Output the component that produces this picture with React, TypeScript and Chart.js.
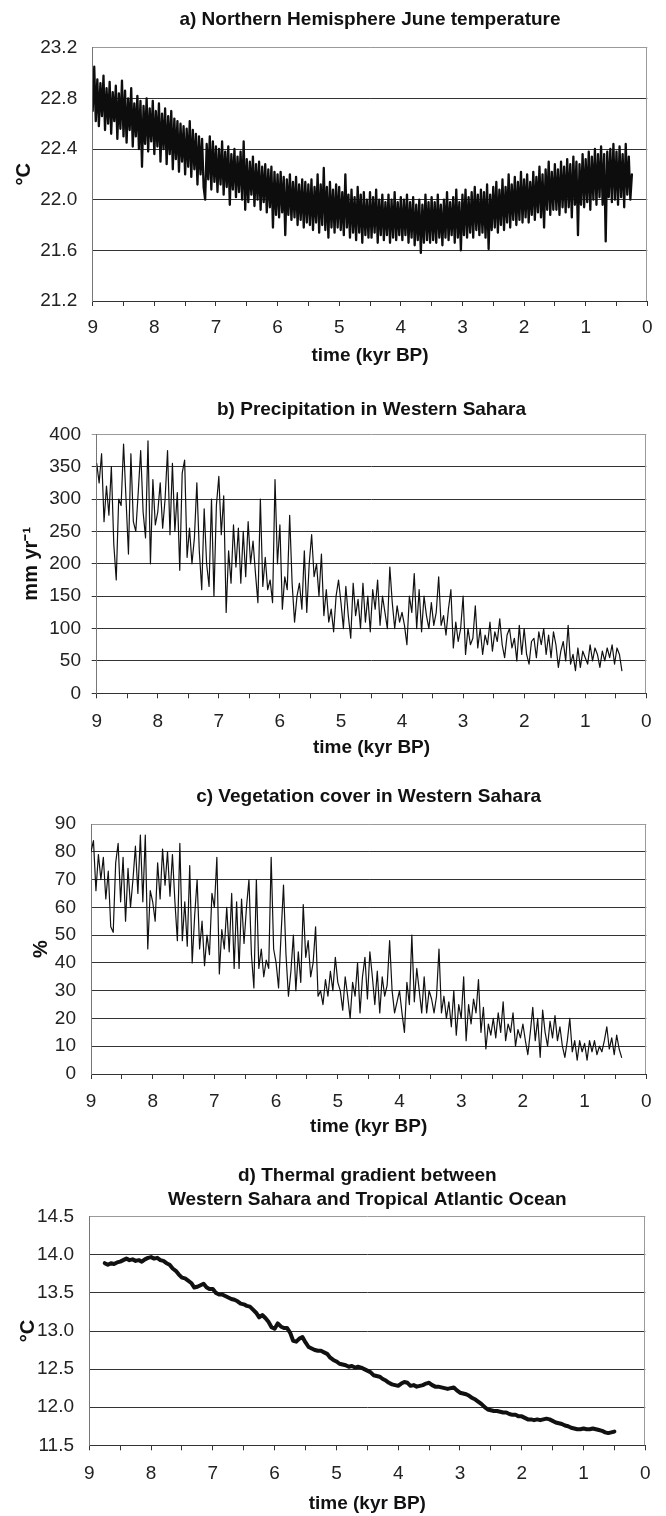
import React, { useEffect, useRef } from "react";
import { Chart, registerables } from "chart.js";

Chart.register(...registerables);

const FONT_FAMILY = "'Liberation Sans', Arial, Helvetica, sans-serif";

// ---------- shared x axis (time, kyr BP, reversed) ----------
const X_AXIS_TITLE = "time (kyr BP)";
const X_TICK_VALUES = [0, 0.5, 1, 1.5, 2, 2.5, 3, 3.5, 4, 4.5, 5, 5.5, 6, 6.5, 7, 7.5, 8, 8.5, 9];
const X_TICK_LABELS = ["0", "", "1", "", "2", "", "3", "", "4", "", "5", "", "6", "", "7", "", "8", "", "9"];

// ---------- panel a ----------
const A_TITLE = "a) Northern Hemisphere June temperature";
const A_Y_TITLE = "°C";
const A_Y_TICKS = [21.2, 21.6, 22.0, 22.4, 22.8, 23.2];
const A_Y_TICK_LABELS = ["21.2", "21.6", "22.0", "22.4", "22.8", "23.2"];
const A_TIME_START = 9.0;
const A_TIME_STEP = 0.025;
const A_TEMPERATURE = [
  22.70, 23.05, 22.62, 22.95, 22.58, 22.92, 22.66, 22.98, 22.55, 22.88, 22.60, 22.93, 22.52, 22.85, 22.62, 22.90, 22.48, 22.84, 22.56, 22.94,
  22.50, 22.86, 22.45, 22.80, 22.55, 22.88, 22.42, 22.76, 22.50, 22.82, 22.40, 22.78, 22.26, 22.74, 22.44, 22.80, 22.38, 22.72, 22.46, 22.78,
  22.36, 22.70, 22.42, 22.76, 22.30, 22.68, 22.40, 22.72, 22.28, 22.66, 22.36, 22.70, 22.24, 22.64, 22.32, 22.62, 22.22, 22.60, 22.30, 22.58,
  22.20, 22.56, 22.26, 22.62, 22.18, 22.55, 22.24, 22.52, 22.12, 22.50, 22.20, 22.48, 22.10, 22.00, 22.44, 22.16, 22.50, 22.08, 22.46, 22.14,
  22.42, 22.06, 22.40, 22.12, 22.46, 22.04, 22.38, 22.10, 22.42, 21.96, 22.36, 22.08, 22.40, 22.02, 22.34, 22.06, 22.38, 22.00, 22.46, 21.92,
  22.32, 21.98, 22.30, 22.04, 22.34, 21.95, 22.28, 22.00, 22.30, 21.92, 22.26, 21.98, 22.28, 21.90, 22.24, 21.94, 22.26, 21.78, 22.22, 21.88,
  22.20, 21.86, 22.22, 21.90, 22.18, 21.72, 22.16, 21.88, 22.20, 21.84, 22.14, 21.86, 22.18, 21.80, 22.12, 21.84, 22.16, 21.78, 22.14, 21.82,
  22.12, 21.80, 22.16, 21.76, 22.10, 21.82, 22.20, 21.74, 22.12, 21.80, 22.25, 21.76, 22.10, 21.70, 22.14, 21.78, 22.08, 21.74, 22.12, 21.78,
  22.10, 21.76, 22.06, 21.72, 22.20, 21.78, 22.04, 21.70, 22.08, 21.74, 22.02, 21.68, 22.10, 21.74, 22.04, 21.66, 22.06, 21.72, 22.00, 21.70,
  22.06, 21.70, 22.02, 21.74, 22.08, 21.66, 22.00, 21.72, 22.04, 21.68, 21.98, 21.72, 22.04, 21.66, 22.00, 21.70, 22.06, 21.68, 21.98, 21.72,
  22.02, 21.68, 22.00, 21.72, 22.04, 21.66, 21.98, 21.70, 22.02, 21.64, 21.96, 21.68, 22.00, 21.58, 21.96, 21.66, 22.04, 21.68, 21.98, 21.66,
  22.02, 21.68, 21.98, 21.66, 22.04, 21.70, 21.96, 21.64, 22.00, 21.70, 22.06, 21.68, 21.98, 21.72, 22.02, 21.66, 22.08, 21.70, 21.98, 21.60,
  22.04, 21.72, 22.08, 21.70, 22.02, 21.74, 22.06, 21.70, 22.10, 21.76, 22.04, 21.72, 22.08, 21.74, 22.06, 21.70, 22.12, 21.61, 22.04, 21.76,
  22.10, 21.78, 22.14, 21.74, 22.08, 21.80, 22.16, 21.76, 22.10, 21.82, 22.20, 21.78, 22.12, 21.84, 22.18, 21.80, 22.14, 21.84, 22.22, 21.82,
  22.16, 21.86, 22.20, 21.82, 22.14, 21.88, 22.22, 21.84, 22.18, 21.90, 22.26, 21.86, 22.20, 21.78, 22.24, 21.92, 22.30, 21.88, 22.22, 21.92,
  22.28, 21.92, 22.24, 21.88, 22.30, 21.94, 22.26, 21.90, 22.32, 21.94, 22.28, 21.86, 22.34, 21.96, 22.30, 21.72, 22.28, 21.96, 22.36, 21.94,
  22.32, 21.98, 22.38, 21.92, 22.34, 22.00, 22.40, 21.96, 22.36, 22.02, 22.42, 21.96, 22.36, 21.67, 22.38, 22.02, 22.40, 21.98, 22.44, 22.00,
  22.38, 21.96, 22.42, 22.02, 22.36, 21.94, 22.44, 22.04, 22.34, 22.00, 22.20,
];

// ---------- panel b ----------
const B_TITLE = "b) Precipitation in Western Sahara";
const B_Y_TITLE = "mm yr⁻¹";
const B_Y_TICKS = [0, 50, 100, 150, 200, 250, 300, 350, 400];
const B_Y_TICK_LABELS = ["0", "50", "100", "150", "200", "250", "300", "350", "400"];
const B_TIME_START = 9.0;
const B_TIME_STEP = 0.04;
const B_PRECIPITATION = [
  355, 325, 370, 265, 320, 275, 350, 230, 175, 300, 290, 385, 300, 215, 370, 265, 250, 310, 375, 280, 240, 390, 200, 330, 260,
  280, 325, 255, 300, 375, 245, 355, 250, 310, 190, 340, 360, 210, 255, 200, 240, 325, 220, 160, 285, 200, 165, 300, 150, 290,
  335, 245, 305, 125, 220, 170, 260, 195, 255, 170, 250, 180, 265, 200, 235, 185, 140, 300, 165, 210, 160, 175, 140, 330, 200,
  260, 130, 180, 160, 275, 170, 110, 150, 170, 130, 220, 125, 200, 245, 180, 200, 150, 215, 120, 160, 110, 130, 95, 150, 175,
  140, 100, 165, 120, 85, 170, 120, 145, 100, 170, 110, 150, 95, 160, 130, 175, 105, 150, 125, 100, 195, 140, 100, 135, 110,
  125, 105, 75, 150, 125, 185, 100, 160, 95, 150, 120, 100, 140, 105, 125, 180, 105, 120, 90, 130, 160, 70, 110, 80, 100,
  150, 60, 100, 75, 85, 135, 70, 100, 60, 90, 75, 110, 65, 95, 80, 115, 75, 55, 90, 100, 70, 85, 50, 105, 60,
  100, 60, 45, 80, 85, 55, 95, 75, 100, 60, 90, 55, 95, 75, 40, 65, 80, 50, 105, 45, 60, 35, 70, 40, 65,
  55, 45, 75, 50, 70, 60, 40, 65, 50, 70, 55, 75, 45, 70, 60, 35,
];

// ---------- panel c ----------
const C_TITLE = "c) Vegetation cover in Western Sahara";
const C_Y_TITLE = "%";
const C_Y_TICKS = [0, 10, 20, 30, 40, 50, 60, 70, 80, 90];
const C_Y_TICK_LABELS = ["0", "10", "20", "30", "40", "50", "60", "70", "80", "90"];
const C_TIME_START = 9.0;
const C_TIME_STEP = 0.04;
const C_VEGETATION = [
  80, 84, 66, 79, 70, 78, 63, 73, 53, 51, 76, 83, 62, 78, 55, 74, 60, 70, 82, 65, 86, 62, 86, 45, 66,
  62, 55, 76, 63, 81, 68, 80, 64, 79, 62, 48, 83, 48, 62, 46, 75, 40, 57, 70, 45, 55, 39, 50, 43, 65,
  60, 78, 36, 52, 45, 60, 44, 65, 38, 62, 38, 63, 47, 60, 70, 43, 31, 70, 38, 45, 35, 41, 38, 78, 45,
  40, 31, 50, 68, 43, 28, 37, 50, 30, 44, 33, 61, 42, 48, 35, 40, 53, 28, 30, 25, 34, 28, 37, 30, 42,
  33, 30, 23, 35, 28, 20, 33, 28, 40, 22, 35, 42, 27, 44, 35, 25, 37, 22, 35, 28, 32, 48, 30, 22, 26,
  30, 22, 15, 33, 25, 50, 26, 38, 30, 22, 35, 22, 30, 27, 22, 28, 45, 22, 28, 20, 26, 17, 30, 14, 25,
  20, 35, 12, 25, 18, 27, 22, 34, 15, 24, 9, 18, 14, 20, 13, 22, 15, 26, 12, 18, 15, 22, 10, 16, 13,
  18, 12, 7, 15, 24, 12, 20, 6, 23, 15, 10, 19, 13, 21, 12, 17, 10, 6, 12, 20, 8, 12, 5, 12, 8,
  11, 5, 12, 8, 12, 7, 10, 8, 12, 17, 9, 13, 7, 14, 9, 6,
];

// ---------- panel d ----------
const D_TITLE = ["d) Thermal gradient between", "Western Sahara and Tropical Atlantic Ocean"];
const D_Y_TITLE = "°C";
const D_Y_TICKS = [11.5, 12.0, 12.5, 13.0, 13.5, 14.0, 14.5];
const D_Y_TICK_LABELS = ["11.5", "12.0", "12.5", "13.0", "13.5", "14.0", "14.5"];
const D_TIME_START = 8.75;
const D_TIME_STEP = 0.05;
const D_GRADIENT = [
  13.89, 13.87, 13.89, 13.88, 13.90, 13.91, 13.93, 13.95, 13.93, 13.94,
  13.92, 13.93, 13.91, 13.94, 13.96, 13.97, 13.95, 13.96, 13.93, 13.92,
  13.89, 13.87, 13.82, 13.79, 13.74, 13.70, 13.69, 13.66, 13.63, 13.57,
  13.58, 13.60, 13.62, 13.57, 13.55, 13.55, 13.50, 13.48, 13.48, 13.46,
  13.44, 13.42, 13.41, 13.39, 13.36, 13.35, 13.33, 13.32, 13.28, 13.24,
  13.18, 13.21, 13.17, 13.12, 13.05, 13.03, 13.10, 13.06, 13.04, 13.04,
  12.98, 12.87, 12.86, 12.90, 12.92, 12.85, 12.79, 12.77, 12.75, 12.74,
  12.74, 12.72, 12.70, 12.65, 12.62, 12.60, 12.57, 12.56, 12.55, 12.53,
  12.54, 12.52, 12.53, 12.52, 12.50, 12.48, 12.46, 12.42, 12.41, 12.40,
  12.37, 12.35, 12.32, 12.30, 12.29, 12.28, 12.31, 12.33, 12.32, 12.28,
  12.29, 12.27, 12.28, 12.29, 12.31, 12.32, 12.29, 12.27, 12.27, 12.26,
  12.25, 12.24, 12.25, 12.26, 12.22, 12.19, 12.18, 12.17, 12.15, 12.12,
  12.10, 12.07, 12.04, 12.00, 11.97, 11.96, 11.95, 11.95, 11.94, 11.93,
  11.93, 11.91, 11.90, 11.90, 11.88, 11.88, 11.86, 11.84, 11.84, 11.83,
  11.84, 11.83, 11.84, 11.85, 11.84, 11.82, 11.80, 11.79, 11.78, 11.76,
  11.75, 11.73, 11.72, 11.71, 11.71, 11.72, 11.71, 11.71, 11.72, 11.71,
  11.70, 11.69, 11.67, 11.66, 11.67, 11.68,
];

// sample times for each series (one per stored value)
function toPoints(start: number, step: number, values: number[]) {
  return values.map((y, i) => ({ x: Math.round((start - i * step) * 1000) / 1000, y }));
}

type Panel = {
  top: number;
  height: number;
  title: string | string[];
  titleLH: number;
  titlePadTop: number;
  titlePadBottom: number;
  yTitle: string;
  yTitlePad: number;
  yWidth: number;
  yTicks: number[];
  yTickLabels: string[];
  yTickPad: number;
  yTickLen: number;
  xHeight: number;
  xTickPad: number;
  xTitlePad: number;
  rightPad: number;
  points: { x: number; y: number }[];
  lineWidth: number;
  lineColor: string;
};

const PANELS: Panel[] = [
  {
    top: 0, height: 372, title: A_TITLE, titleLH: 1.2, titlePadTop: 8.6, titlePadBottom: 16.3,
    yTitle: A_Y_TITLE, yTitlePad: 12, yWidth: 92.7, yTicks: A_Y_TICKS, yTickLabels: A_Y_TICK_LABELS,
    yTickPad: 15.5, yTickLen: 0, xHeight: 71, xTickPad: 10.6, xTitlePad: 4.6, rightPad: 18.7,
    points: toPoints(A_TIME_START, A_TIME_STEP, A_TEMPERATURE), lineWidth: 2.3, lineColor: "#0d0d0d",
  },
  {
    top: 372, height: 388, title: B_TITLE, titleLH: 1.2, titlePadTop: 26.6, titlePadBottom: 12.9,
    yTitle: B_Y_TITLE, yTitlePad: 19.5, yWidth: 96.7, yTicks: B_Y_TICKS, yTickLabels: B_Y_TICK_LABELS,
    yTickPad: 10.7, yTickLen: 5, xHeight: 66.7, xTickPad: 12.3, xTitlePad: 0.6, rightPad: 19.7,
    points: toPoints(B_TIME_START, B_TIME_STEP, B_PRECIPITATION), lineWidth: 1.2, lineColor: "#111",
  },
  {
    top: 760, height: 380, title: C_TITLE, titleLH: 1.2, titlePadTop: 25.6, titlePadBottom: 15.6,
    yTitle: C_Y_TITLE, yTitlePad: 29.5, yWidth: 91, yTicks: C_Y_TICKS, yTickLabels: C_Y_TICK_LABELS,
    yTickPad: 15, yTickLen: 0, xHeight: 66, xTickPad: 11.6, xTitlePad: 1.6, rightPad: 19.7,
    points: toPoints(C_TIME_START, C_TIME_STEP, C_VEGETATION), lineWidth: 1.2, lineColor: "#111",
  },
  {
    top: 1140, height: 376, title: D_TITLE, titleLH: 1.3, titlePadTop: 23, titlePadBottom: 4.3,
    yTitle: D_Y_TITLE, yTitlePad: 16, yWidth: 89.3, yTicks: D_Y_TICKS, yTickLabels: D_Y_TICK_LABELS,
    yTickPad: 15.3, yTickLen: 0, xHeight: 70.7, xTickPad: 12.3, xTitlePad: 0.6, rightPad: 20.7,
    points: toPoints(D_TIME_START, D_TIME_STEP, D_GRADIENT), lineWidth: 4, lineColor: "#111",
  },
];

const framePlugin = {
  id: "rightFrame",
  beforeDatasetsDraw(chart: any) {
    const { ctx, chartArea } = chart;
    const x = Math.round(chartArea.right) - 0.5;
    ctx.save();
    ctx.strokeStyle = "#9a9a9a";
    ctx.lineWidth = 1;
    ctx.beginPath();
    ctx.moveTo(x, chartArea.top);
    ctx.lineTo(x, chartArea.bottom);
    ctx.stroke();
    ctx.restore();
  },
};

function buildConfig(p: Panel): any {
  const yMin = p.yTicks[0];
  const yMax = p.yTicks[p.yTicks.length - 1];
  return {
    type: "line",
    data: {
      datasets: [
        {
          data: p.points,
          borderColor: p.lineColor,
          borderWidth: p.lineWidth,
          pointRadius: 0,
          tension: 0,
          fill: false,
          borderJoinStyle: "round",
          borderCapStyle: "round",
        },
      ],
    },
    options: {
      animation: false,
      responsive: true,
      maintainAspectRatio: false,
      events: [],
      layout: { padding: { left: 0, right: p.rightPad, top: 0, bottom: 0 } },
      plugins: {
        legend: { display: false },
        tooltip: { enabled: false },
        title: {
          display: true,
          text: p.title,
          fullSize: false,
          color: "#111",
          font: { family: FONT_FAMILY, size: 19, weight: "bold", lineHeight: p.titleLH },
          padding: { top: p.titlePadTop, bottom: p.titlePadBottom },
        },
      },
      scales: {
        x: {
          type: "linear",
          min: 0,
          max: 9,
          reverse: true,
          afterBuildTicks: (s: any) => {
            s.ticks = X_TICK_VALUES.map((v) => ({ value: v }));
          },
          afterFit: (s: any) => {
            s.height = p.xHeight;
          },
          ticks: {
            autoSkip: false,
            maxRotation: 0,
            padding: p.xTickPad,
            color: "#222",
            font: { family: FONT_FAMILY, size: 19 },
            callback: (v: number) => {
              const i = X_TICK_VALUES.indexOf(v);
              return i >= 0 ? X_TICK_LABELS[i] : "";
            },
          },
          grid: { drawOnChartArea: false, drawTicks: true, tickLength: 5, color: "#333", lineWidth: 1 },
          border: { display: true, color: "#333", width: 1 },
          title: {
            display: true,
            text: X_AXIS_TITLE,
            color: "#111",
            font: { family: FONT_FAMILY, size: 19, weight: "bold", lineHeight: 1.2 },
            padding: { top: 0, bottom: p.xTitlePad },
          },
        },
        y: {
          type: "linear",
          min: yMin,
          max: yMax,
          afterBuildTicks: (s: any) => {
            s.ticks = p.yTicks.map((v) => ({ value: v }));
          },
          afterFit: (s: any) => {
            s.width = p.yWidth;
          },
          ticks: {
            padding: p.yTickPad,
            color: "#222",
            font: { family: FONT_FAMILY, size: 19 },
            callback: (v: number) => {
              const i = p.yTicks.indexOf(v);
              return i >= 0 ? p.yTickLabels[i] : "";
            },
          },
          grid: {
            drawOnChartArea: true,
            drawTicks: p.yTickLen > 0,
            tickLength: p.yTickLen,
            lineWidth: 1,
            color: (ctx: any) => (ctx.tick && ctx.tick.value === yMax ? "#9a9a9a" : "#333"),
          },
          border: { display: true, color: "#777", width: 1 },
          title: {
            display: true,
            text: p.yTitle,
            color: "#111",
            font: { family: FONT_FAMILY, size: 20, weight: "bold", lineHeight: 1.2 },
            padding: { top: p.yTitlePad, bottom: 0 },
          },
        },
      },
    },
    plugins: [framePlugin],
  };
}

function PanelChart({ panel }: { panel: Panel }) {
  const ref = useRef<HTMLCanvasElement | null>(null);
  useEffect(() => {
    if (!ref.current) return;
    const chart = new Chart(ref.current, buildConfig(panel));
    return () => chart.destroy();
  }, [panel]);
  return (
    <div style={{ position: "absolute", left: 0, top: panel.top, width: 666, height: panel.height }}>
      <canvas ref={ref} />
    </div>
  );
}

export default function App() {
  return (
    <div style={{ position: "absolute", left: 0, top: 0, width: 666, height: 1516, background: "#fff" }}>
      {PANELS.map((p, i) => (
        <PanelChart key={i} panel={p} />
      ))}
    </div>
  );
}
